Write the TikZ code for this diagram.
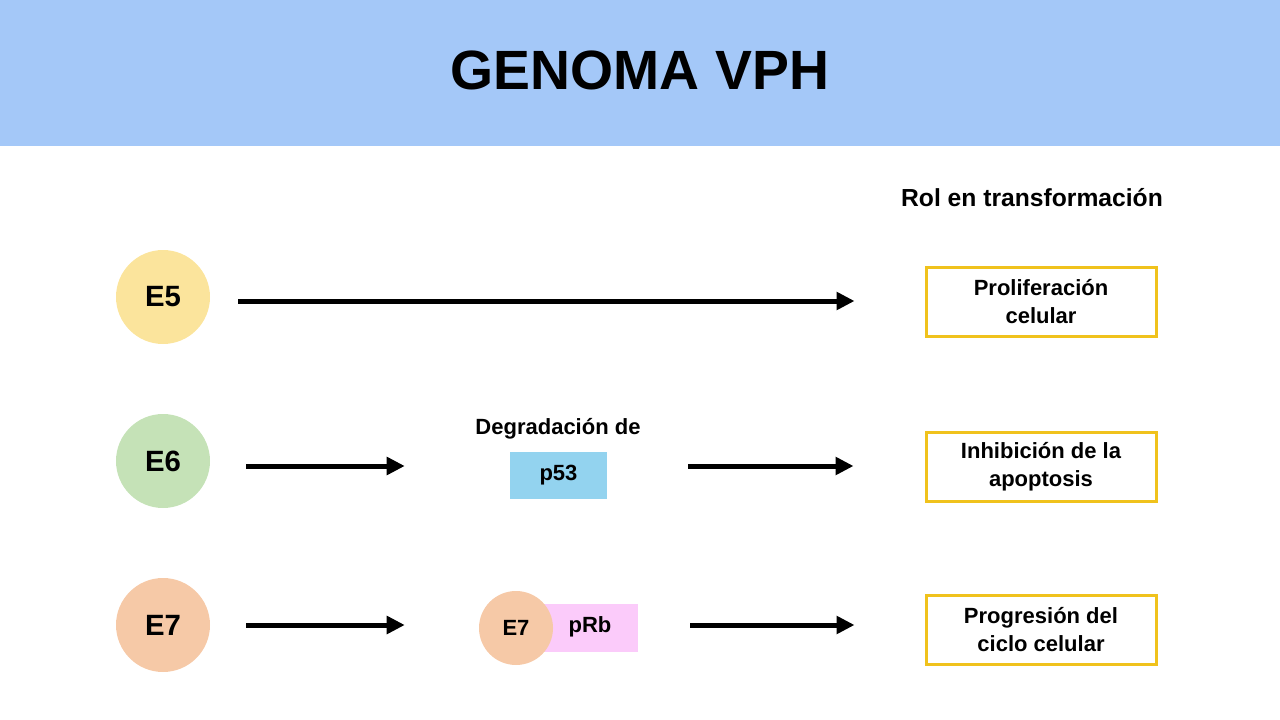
\documentclass[tikz,border=0pt]{standalone}
\usepackage{fontspec}
\setmainfont{Liberation Sans}
\usetikzlibrary{arrows.meta}
\definecolor{hdr}{HTML}{A4C8F8}
\definecolor{cy}{HTML}{FBE49C}
\definecolor{cg}{HTML}{C5E2B7}
\definecolor{cp}{HTML}{F6C9A7}
\definecolor{bl}{HTML}{93D3EF}
\definecolor{pk}{HTML}{FBCBFA}
\definecolor{gd}{HTML}{F0C21C}
\begin{document}
\begin{tikzpicture}[x=0.75pt,y=-0.75pt,
  gene/.style={circle,inner sep=0pt,minimum size=70.5pt,font=\bfseries\fontsize{22}{26}\selectfont},
  rolbox/.style={draw=gd,line width=2.25pt,minimum width=172.5pt,minimum height=51.75pt,align=center,inner sep=0pt,font=\bfseries\fontsize{16.5}{21}\selectfont},
  arr/.style={line width=3.75pt,-{Triangle[length=13.5pt,width=13pt]}},
  lbl/.style={font=\bfseries\fontsize{16.5}{20}\selectfont}]
\useasboundingbox (0,0) rectangle (1280,720);
\fill[hdr] (0,0) rectangle (1280,146);
\node[font=\bfseries\fontsize{41.5}{50}\selectfont] (title) at (640,70) {GENOMA VPH};
\node[font=\bfseries\fontsize{18.5}{22}\selectfont] (rol) at (1032,198) {Rol en transformación};

\node[gene,fill=cy] (e5) at (163,297) {E5};
\node[gene,fill=cg] (e6) at (163,461) {E6};
\node[gene,fill=cp] (e7) at (163,625) {E7};

\node[rolbox] (b1) at (1041,301.5) {Proliferación\\celular};
\node[rolbox] (b2) at (1041,466.5) {Inhibición de la\\apoptosis};
\node[rolbox] (b3) at (1041,629.5) {Progresión del\\ciclo celular};

\node[lbl] (deg) at (558,429) {Degradación de};
\node[lbl,fill=bl,minimum width=72.75pt,minimum height=35.25pt,inner sep=0pt] (p53) at (558.5,475.5) {p53};

\node[lbl,fill=pk,minimum width=73.5pt,minimum height=36pt,inner sep=0pt] (prb) at (589,628) {};
\node[lbl] (prbt) at (590,627) {pRb};
\node[circle,fill=cp,inner sep=0pt,minimum size=55.5pt,lbl] (e7s) at (516,628) {E7};

\coordinate (r1) at (0,301);
\coordinate (r2) at (0,466);
\coordinate (r3) at (0,625);

\draw[arr,shorten <=21pt,shorten >=52.5pt] (e5.east |- r1) -- (b1.west |- r1);
\draw[arr,shorten <=27pt,shorten >=78.75pt] (e6.east |- r2) -- (p53.west |- r2);
\draw[arr,shorten <=60.75pt,shorten >=53.25pt] (p53.east |- r2) -- (b2.west |- r2);
\draw[arr,shorten <=27pt,shorten >=55.5pt] (e7.east |- r3) -- (e7s.west |- r3);
\draw[arr,shorten <=39pt,shorten >=52.5pt] (prb.east |- r3) -- (b3.west |- r3);
\end{tikzpicture}
\end{document}
